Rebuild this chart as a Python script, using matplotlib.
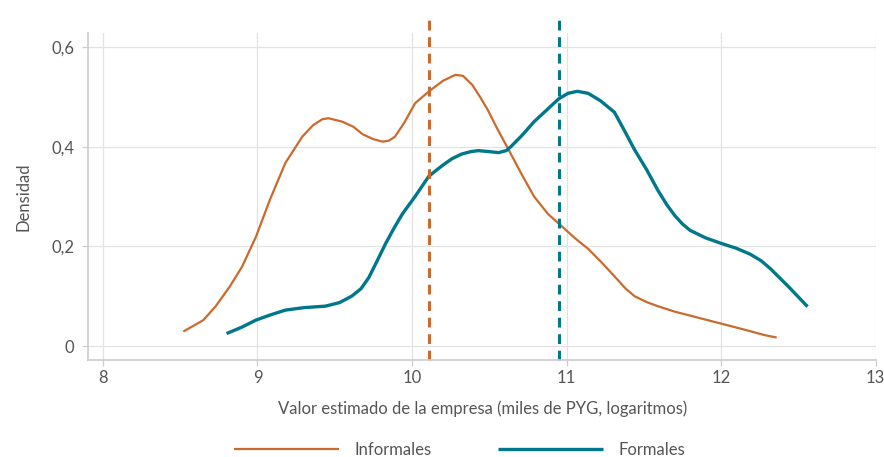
import matplotlib
matplotlib.use("Agg")
import matplotlib.pyplot as plt
from matplotlib.ticker import FuncFormatter

plt.rcParams["font.family"] = ["Lato", "DejaVu Sans"]

ORANGE = "#CB6A2D"
TEAL = "#00778A"
TEXT = "#555555"
GRID = "#E3E3E3"

# densidad estimada
inf_x = [8.52, 8.65, 8.73, 8.82, 8.90, 8.99, 9.08, 9.18, 9.29, 9.36, 9.42, 9.46, 9.55,
         9.62, 9.68, 9.75, 9.81, 9.85, 9.89, 9.95, 10.02, 10.11, 10.20, 10.28, 10.33,
         10.39, 10.44, 10.49, 10.55, 10.62, 10.70, 10.79, 10.88, 10.97, 11.06, 11.14,
         11.22, 11.31, 11.38, 11.44, 11.52, 11.59, 11.70, 11.85, 12.00, 12.15, 12.28, 12.36]
inf_y = [0.029, 0.052, 0.080, 0.119, 0.159, 0.219, 0.293, 0.367, 0.420, 0.443, 0.455, 0.457,
         0.450, 0.440, 0.425, 0.415, 0.410, 0.412, 0.420, 0.448, 0.487, 0.511, 0.532, 0.544,
         0.542, 0.524, 0.500, 0.474, 0.437, 0.397, 0.350, 0.300, 0.265, 0.240, 0.215,
         0.195, 0.170, 0.140, 0.116, 0.100, 0.088, 0.080, 0.069, 0.057, 0.045, 0.033,
         0.022, 0.017]

for_x = [8.80, 8.90, 8.99, 9.08, 9.18, 9.30, 9.44, 9.53, 9.61, 9.67, 9.72, 9.77, 9.83,
         9.89, 9.94, 10.02, 10.11, 10.20, 10.26, 10.32, 10.38, 10.43, 10.50, 10.56,
         10.61, 10.64, 10.71, 10.79, 10.87, 10.95, 11.01, 11.07, 11.14, 11.22, 11.31,
         11.37, 11.44, 11.52, 11.59, 11.65, 11.70, 11.75, 11.80, 11.90, 12.00, 12.10,
         12.19, 12.26, 12.32, 12.44, 12.56]
for_y = [0.025, 0.038, 0.052, 0.062, 0.072, 0.077, 0.080, 0.087, 0.100, 0.115, 0.137, 0.168,
         0.206, 0.240, 0.266, 0.300, 0.341, 0.363, 0.376, 0.385, 0.390, 0.392, 0.390, 0.388,
         0.392, 0.400, 0.422, 0.450, 0.473, 0.496, 0.507, 0.511, 0.507, 0.492, 0.469,
         0.435, 0.394, 0.353, 0.313, 0.283, 0.262, 0.245, 0.232, 0.217, 0.206, 0.196,
         0.184, 0.171, 0.155, 0.118, 0.079]

mean_inf = 10.113
mean_for = 10.951

xticks = [8, 9, 10, 11, 12, 13]
yticks = [0, 0.2, 0.4, 0.6]

fig = plt.figure(figsize=(8.84, 4.57), dpi=100)
ax = fig.add_axes([0.0995, 0.2123, 0.892, 0.7155])

ax.plot(inf_x, inf_y, color=ORANGE, lw=1.6, label="Informales", solid_capstyle="butt")
ax.plot(for_x, for_y, color=TEAL, lw=2.4, label="Formales", solid_capstyle="butt")
ax.plot([mean_inf, mean_inf], [-0.028, 0.665], color=ORANGE, lw=2.2,
        ls=(0, (3.2, 2.2)), clip_on=False)
ax.plot([mean_for, mean_for], [-0.028, 0.665], color=TEAL, lw=2.2,
        ls=(0, (3.2, 2.2)), clip_on=False)

ax.set_xlim(7.903, 13.006)
ax.set_ylim(-0.028, 0.628)
ax.set_xticks(xticks)
ax.set_yticks(yticks)
ax.yaxis.set_major_formatter(FuncFormatter(lambda v, p: "0" if v == 0 else f"{v:.1f}".replace(".", ",")))
ax.grid(True, color=GRID, lw=0.9)
ax.set_axisbelow(True)
for s in ("top", "right"):
    ax.spines[s].set_visible(False)
for s in ("left", "bottom"):
    ax.spines[s].set_color("#CCCCCC")
    ax.spines[s].set_linewidth(1.2)
ax.tick_params(colors="#CCCCCC", labelcolor=TEXT, labelsize=12, length=4, width=0.9)
ax.tick_params(axis="y", pad=6)

ax.set_xlabel("Valor estimado de la empresa (miles de PYG, logaritmos)",
              color=TEXT, fontsize=12, labelpad=10)
ax.set_ylabel("Densidad", color=TEXT, fontsize=12, labelpad=14)

fig.legend(loc="lower center", bbox_to_anchor=(0.52, -0.035), ncol=2, frameon=False,
           handlelength=6.3, handletextpad=0.9, columnspacing=4.0,
           fontsize=12, labelcolor=TEXT)

fig.savefig("out.png", dpi=100)
